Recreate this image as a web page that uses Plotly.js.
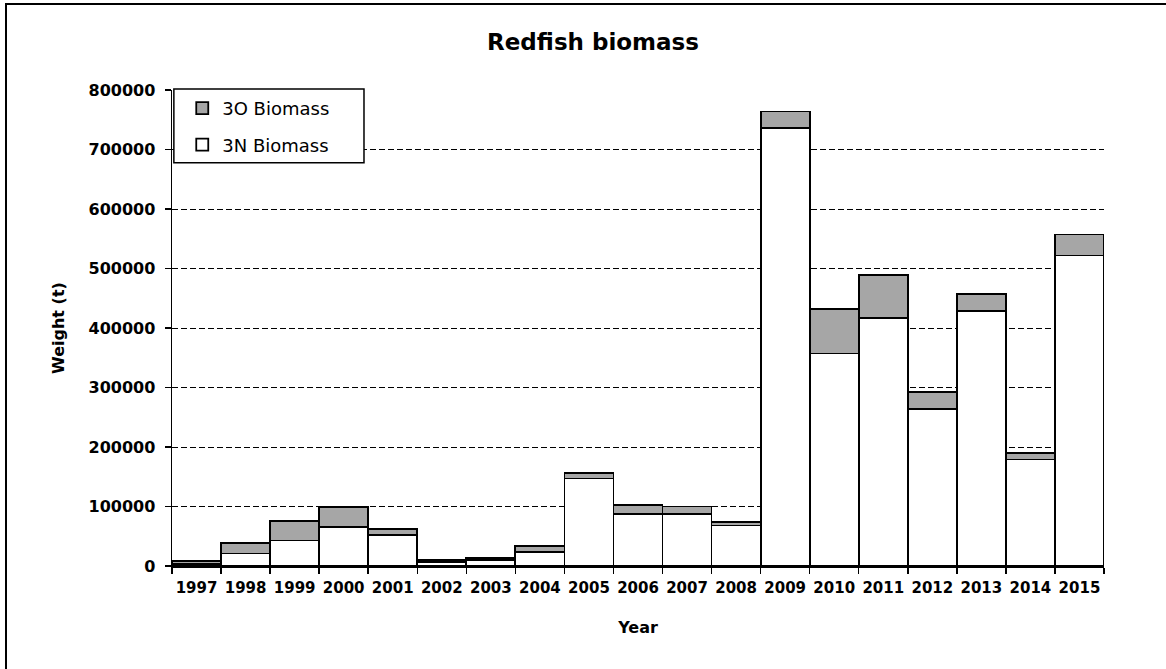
<!DOCTYPE html>
<html>
<head>
<meta charset="utf-8">
<script src="https://cdn.plot.ly/plotly-3.0.1.min.js"></script>
<style>
  html, body { margin: 0; padding: 0; background: #fff; }
  #chart { width: 1166px; height: 669px; }
  #frame { position: absolute; left: 5px; top: 3px; width: 1300px; height: 800px;
           border-left: 2px solid #000; border-top: 2px solid #000; pointer-events: none; }
</style>
</head>
<body>
<div id="chart"></div>
<div id="frame"></div>
<script>
var years = ['1997','1998','1999','2000','2001','2002','2003','2004','2005','2006','2007','2008','2009','2010','2011','2012','2013','2014','2015'];
var biomass3N = [4000, 21000, 43000, 66000, 52000, 7000, 10000, 24000, 147000, 88000, 88000, 68000, 736000, 357000, 417000, 264000, 428000, 179000, 522000];
var biomass3O = [4000, 17000, 32000, 33000, 10000, 3500, 3000, 9000, 9000, 15000, 12000, 6000, 28000, 75000, 72000, 28000, 29000, 11000, 35000];
var yTicks = [0, 100000, 200000, 300000, 400000, 500000, 600000, 700000, 800000];

var FONT = 'DejaVu Sans, Liberation Sans, Arial, sans-serif';

var traces = [
  { type: 'bar', name: '3N Biomass', x: years, y: biomass3N, legendgroup: 'n', legendrank: 2,
    marker: { color: '#ffffff', line: { color: '#000000', width: 1.8 } }, hoverinfo: 'x+y' },
  { type: 'bar', name: '3O Biomass', x: years, y: biomass3O, legendgroup: 'o', legendrank: 1,
    marker: { color: '#a6a6a6', line: { color: '#000000', width: 1.8 } }, hoverinfo: 'x+y' }
];

var layout = {
  width: 1166, height: 669,
  margin: { l: 172, r: 62, t: 90, b: 103 },
  paper_bgcolor: '#ffffff', plot_bgcolor: '#ffffff',
  barmode: 'stack', bargap: 0,
  font: { family: FONT, color: '#000' },
  title: { text: '<b>Redfish biomass</b>', font: { family: FONT, size: 23, color: '#000' },
           x: 0.5086, xref: 'container', xanchor: 'center', y: 0.937, yref: 'container', yanchor: 'middle' },
  xaxis: {
    type: 'category', tickson: 'boundaries', ticks: 'outside', ticklen: 6, tickwidth: 1.5, tickcolor: '#000',
    tickangle: 0, ticklabelstandoff: 7,
    showline: true, linecolor: '#000', linewidth: 1.5, showgrid: false, zeroline: false,
    tickfont: { family: FONT, size: 15, color: '#000', weight: 'bold' },
    title: { text: '<b>Year</b>', font: { family: FONT, size: 16, color: '#000' }, standoff: 26 }
  },
  yaxis: {
    range: [0, 800000], tickvals: yTicks, ticktext: yTicks.map(String),
    ticks: 'outside', ticklen: 6, tickwidth: 1.5, tickcolor: '#000', ticklabelstandoff: 6,
    showline: true, linecolor: '#000', linewidth: 1.5, zeroline: false,
    showgrid: true, gridcolor: '#000', gridwidth: 1, griddash: '6px,3px',
    tickfont: { family: FONT, size: 16, color: '#000', weight: 'bold' },
    title: { text: '<b>Weight (t)</b>', font: { family: FONT, size: 16, color: '#000' }, standoff: 20 }
  },
  showlegend: true,
  legend: {
    x: 0.011, xanchor: 'left', y: 1.0, yanchor: 'top',
    bgcolor: 'rgba(0,0,0,0)', borderwidth: 0,
    traceorder: 'grouped', tracegroupgap: 10, itemwidth: 30,
    font: { family: FONT, size: 18, color: '#000' }
  },
  shapes: [
    { type: 'rect', xref: 'paper', yref: 'paper', x0: 0.002, x1: 0.206, y0: 0.847, y1: 1.002,
      fillcolor: '#ffffff', line: { color: '#000', width: 1.5 }, layer: 'above' }
  ]
};

Plotly.newPlot('chart', traces, layout, { displayModeBar: false, staticPlot: true });
</script>
</body>
</html>
